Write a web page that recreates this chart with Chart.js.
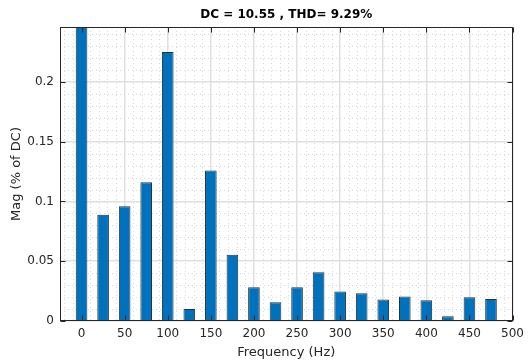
<!DOCTYPE html>
<html>
<head>
<meta charset="utf-8">
<script src="https://cdn.jsdelivr.net/npm/chart.js@4/dist/chart.umd.min.js"></script>
<style>
html,body{margin:0;padding:0;background:#fff;}
#wrap{width:530px;height:360px;}
</style>
</head>
<body>
<div id="wrap"><canvas id="c" width="530" height="360"></canvas></div>
<script>
// ---- data ----
const frequencies = [0,25,50,75,100,125,150,175,200,225,250,275,300,325,350,375,400,425,450,475];
const magnitudes  = [100,0.089,0.096,0.116,0.225,0.010,0.126,0.0555,0.0282,0.0156,0.0282,0.0408,0.0246,0.0232,0.0179,0.0204,0.0173,0.0039,0.0198,0.0184];
const xTickValues = [0,50,100,150,200,250,300,350,400,450,500];
const yTickValues = [0,0.05,0.1,0.15,0.2];
const xRange = [-25, 500];
const yRange = [0, 0.246];
const xMinorStep = 10;
const yMinorStep = 0.01;
const chartTitle = 'DC = 10.55 , THD= 9.29%';
const xTitle = 'Frequency (Hz)';
const yTitle = 'Mag (% of DC)';

const AXIS = '#262626';
const FONT = "'DejaVu Sans', 'Liberation Sans', Arial, sans-serif";

const matlabFrame = {
  id: 'matlabFrame',
  beforeDatasetsDraw(chart) {
    const {ctx, chartArea: a, scales: {x, y}} = chart;
    ctx.save();
    ctx.strokeStyle = '#d9d9d9';
    ctx.lineWidth = 1;
    ctx.setLineDash([1, 3]);
    for (let v = xRange[0] + 5; v < xRange[1]; v += xMinorStep) {
      const r = Math.round(v);
      if (r % 50 === 0) continue;
      const px = Math.round(x.getPixelForValue(r)) + 0.5;
      ctx.beginPath(); ctx.moveTo(px, a.top); ctx.lineTo(px, a.bottom); ctx.stroke();
    }
    for (let i = 1; i * yMinorStep < yRange[1]; i++) {
      if (i % 5 === 0) continue;
      const py = Math.round(y.getPixelForValue(i * yMinorStep)) + 0.5;
      ctx.beginPath(); ctx.moveTo(a.left, py); ctx.lineTo(a.right, py); ctx.stroke();
    }
    ctx.restore();
  },
  afterDraw(chart) {
    const {ctx, chartArea: a, scales: {x, y}} = chart;
    ctx.save();
    ctx.strokeStyle = AXIS;
    ctx.lineWidth = 1;
    ctx.setLineDash([]);
    const L = Math.round(a.left) + 0.5, R = Math.round(a.right) - 0.5;
    const T = Math.round(a.top) + 0.5, B = Math.round(a.bottom) - 0.5;
    ctx.strokeRect(L, T, R - L, B - T);
    const tl = 5;
    xTickValues.forEach(v => {
      const px = Math.round(x.getPixelForValue(v)) + 0.5;
      ctx.beginPath();
      ctx.moveTo(px, B); ctx.lineTo(px, B - tl);
      ctx.moveTo(px, T); ctx.lineTo(px, T + tl);
      ctx.stroke();
    });
    yTickValues.forEach(v => {
      const py = Math.round(y.getPixelForValue(v)) + 0.5;
      ctx.beginPath();
      ctx.moveTo(L, py); ctx.lineTo(L + tl, py);
      ctx.moveTo(R, py); ctx.lineTo(R - tl, py);
      ctx.stroke();
    });
    ctx.restore();
  }
};

new Chart(document.getElementById('c'), {
  type: 'bar',
  data: {
    datasets: [{
      data: frequencies.map((f, i) => ({x: f, y: magnitudes[i]})),
      backgroundColor: '#0072bd',
      borderColor: '#263238',
      borderWidth: 1,
      barPercentage: 0.54,
      categoryPercentage: 1.0
    }]
  },
  options: {
    responsive: false,
    devicePixelRatio: 1,
    animation: false,
    layout: {padding: {left: 0, right: 10, top: 0, bottom: 0}},
    plugins: {
      legend: {display: false},
      tooltip: {enabled: false},
      title: {
        display: true,
        text: chartTitle,
        fullSize: false,
        color: '#000',
        font: {family: FONT, size: 12, weight: 'bold'},
        padding: {top: 8, bottom: 4.6}
      }
    },
    scales: {
      x: {
        type: 'linear',
        min: xRange[0],
        max: xRange[1],
        offset: false,
        afterBuildTicks: s => { s.ticks = xTickValues.map(v => ({value: v})); },
        afterFit: s => { s.height = 39; },
        grid: {color: '#e0e0e0', lineWidth: 1.5, drawTicks: false, offset: false},
        border: {display: false},
        ticks: {color: AXIS, font: {family: FONT, size: 12}, padding: 6, maxRotation: 0, autoSkip: false},
        title: {display: true, text: xTitle, color: AXIS, font: {family: FONT, size: 13}, padding: {top: 0, bottom: 0}}
      },
      y: {
        min: yRange[0],
        max: yRange[1],
        afterBuildTicks: s => { s.ticks = yTickValues.map(v => ({value: v})); },
        afterFit: s => { s.width = 60; },
        grid: {color: '#e0e0e0', lineWidth: 1.5, drawTicks: false},
        border: {display: false},
        ticks: {color: AXIS, font: {family: FONT, size: 12}, padding: 6, autoSkip: false,
                callback: v => String(+v.toFixed(4))},
        title: {display: true, text: yTitle, color: AXIS, font: {family: FONT, size: 13}, padding: {top: 9, bottom: 0}}
      }
    }
  },
  plugins: [matlabFrame]
});
</script>
</body>
</html>
